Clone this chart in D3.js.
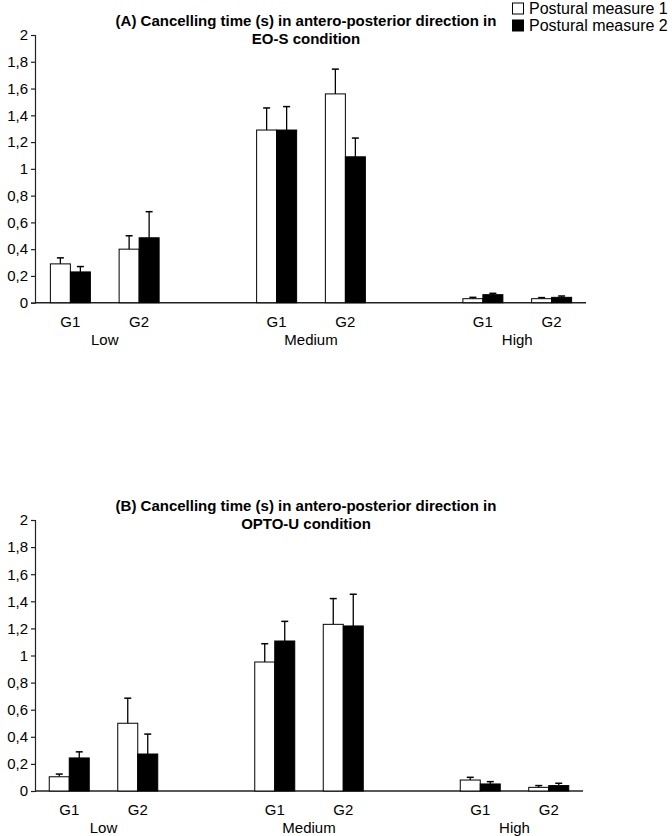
<!DOCTYPE html>
<html>
<head>
<meta charset="utf-8">
<script src="https://cdn.jsdelivr.net/npm/d3@7/dist/d3.min.js"></script>
<style>
  html, body { margin: 0; padding: 0; background: #fff; }
  svg { display: block; }
  text { font-family: "Liberation Sans", Arial, sans-serif; fill: #000; }
</style>
</head>
<body>
<svg id="chart" width="672" height="836"></svg>
<script>
// ---------- data ----------
const levels = ["Low", "Medium", "High"];
const groups = ["G1", "G2"];
const seriesNames = ["Postural measure 1", "Postural measure 2"];
const yTicks = [0, 0.2, 0.4, 0.6, 0.8, 1, 1.2, 1.4, 1.6, 1.8, 2];

const titleA = ["(A) Cancelling time (s) in antero-posterior direction in", "EO-S condition"];
const titleB = ["(B) Cancelling time (s) in antero-posterior direction in", "OPTO-U condition"];

// order: Low-G1, Low-G2, Medium-G1, Medium-G2, High-G1, High-G2
const aMeasure1 = [0.29, 0.40, 1.29, 1.56, 0.03, 0.03];
const aMeasure1Err = [0.045, 0.10, 0.165, 0.185, 0.01, 0.008];
const aMeasure2 = [0.23, 0.485, 1.29, 1.09, 0.06, 0.04];
const aMeasure2Err = [0.04, 0.195, 0.175, 0.14, 0.01, 0.01];

const bMeasure1 = [0.105, 0.50, 0.952, 1.23, 0.081, 0.027];
const bMeasure1Err = [0.02, 0.185, 0.135, 0.19, 0.02, 0.013];
const bMeasure2 = [0.244, 0.273, 1.107, 1.218, 0.052, 0.04];
const bMeasure2Err = [0.045, 0.147, 0.145, 0.234, 0.017, 0.017];

// ---------- drawing ----------
const svg = d3.select("#chart");
const fmt = d3.formatLocale({decimal: ",", thousands: ".", grouping: [3], currency: ["", ""]}).format(".1~f");
const fillColors = ["#ffffff", "#000000"];

// slot keys incl. blank gaps between levels
const slots = [];
levels.forEach((lv, i) => {
  groups.forEach(g => slots.push(lv + "|" + g));
  if (i < levels.length - 1) slots.push("gap" + i);
});

function panel(cfg) {
  const g = svg.append("g");
  const x = d3.scaleBand().domain(slots).range(cfg.xRange);
  const y = d3.scaleLinear().domain([0, 2]).range([cfg.y0, cfg.y2]);
  const axisX = 35;
  const barW = 20;

  // y axis
  const yAxis = d3.axisLeft(y).tickValues(yTicks).tickSize(4).tickPadding(3).tickFormat(fmt);
  const ya = g.append("g").attr("transform", `translate(${axisX},0)`).call(yAxis);
  ya.select(".domain").attr("stroke", "#222").attr("stroke-width", 1.2);
  ya.selectAll(".tick line").attr("stroke", "#222").attr("stroke-width", 1.2);
  ya.selectAll(".tick text").attr("font-size", 15).attr("font-family", "Liberation Sans, Arial, sans-serif").attr("fill", "#000");

  // x axis baseline
  g.append("line").attr("x1", axisX).attr("x2", cfg.xRange[1])
    .attr("y1", y(0)).attr("y2", y(0)).attr("stroke", "#222").attr("stroke-width", 1.4);

  const data = [];
  levels.forEach((lv, li) => groups.forEach((gr, gi) => {
    const idx = li * 2 + gi;
    const cx = x(lv + "|" + gr) + x.bandwidth() / 2;
    data.push({lv, gr, cx, s: 0, v: cfg.m1[idx], e: cfg.e1[idx]});
    data.push({lv, gr, cx, s: 1, v: cfg.m2[idx], e: cfg.e2[idx]});
  }));

  // error bars (upper only)
  const eb = g.append("g");
  data.forEach(d => {
    const bx = d.s === 0 ? d.cx - barW / 2 : d.cx + barW / 2;
    eb.append("line").attr("x1", bx).attr("x2", bx).attr("y1", y(d.v)).attr("y2", y(d.v + d.e))
      .attr("stroke", "#000").attr("stroke-width", 1.3);
    eb.append("line").attr("x1", bx - 3.5).attr("x2", bx + 3.5).attr("y1", y(d.v + d.e)).attr("y2", y(d.v + d.e))
      .attr("stroke", "#000").attr("stroke-width", 1.5);
  });

  // bars
  g.append("g").selectAll("rect").data(data).join("rect")
    .attr("x", d => d.s === 0 ? d.cx - barW : d.cx)
    .attr("y", d => y(d.v))
    .attr("width", barW)
    .attr("height", d => y(0) - y(d.v))
    .attr("fill", d => fillColors[d.s])
    .attr("stroke", "#000").attr("stroke-width", 1);

  // group labels
  levels.forEach(lv => groups.forEach(gr => {
    g.append("text").attr("x", x(lv + "|" + gr) + x.bandwidth() / 2).attr("y", y(0) + 19)
      .attr("dy", "0.35em").attr("text-anchor", "middle").attr("font-size", 15).text(gr);
  }));
  levels.forEach(lv => {
    const cx = (x(lv + "|G1") + x(lv + "|G2") + x.bandwidth()) / 2;
    g.append("text").attr("x", cx).attr("y", y(0) + 37)
      .attr("dy", "0.35em").attr("text-anchor", "middle").attr("font-size", 15).text(lv);
  });

  // title
  cfg.title.forEach((t, i) => {
    g.append("text").attr("x", 306).attr("y", cfg.y2 - 14 + i * 17.5)
      .attr("dy", "0.35em").attr("text-anchor", "middle")
      .attr("font-size", 15).attr("font-weight", "bold").text(t);
  });
}

panel({xRange: [36, 586], y0: 302.7, y2: 35, m1: aMeasure1, e1: aMeasure1Err, m2: aMeasure2, e2: aMeasure2Err, title: titleA});
panel({xRange: [35, 583], y0: 791, y2: 520, m1: bMeasure1, e1: bMeasure1Err, m2: bMeasure2, e2: bMeasure2Err, title: titleB});

// legend
const lg = svg.append("g");
seriesNames.forEach((name, i) => {
  const cy = 8.5 + i * 17;
  lg.append("rect").attr("x", 512.5).attr("y", cy - 5.5).attr("width", 11).attr("height", 11)
    .attr("fill", fillColors[i]).attr("stroke", "#000").attr("stroke-width", 1);
  lg.append("text").attr("x", 529).attr("y", cy).attr("dy", "0.35em")
    .attr("font-size", 16).text(name);
});
</script>
</body>
</html>
